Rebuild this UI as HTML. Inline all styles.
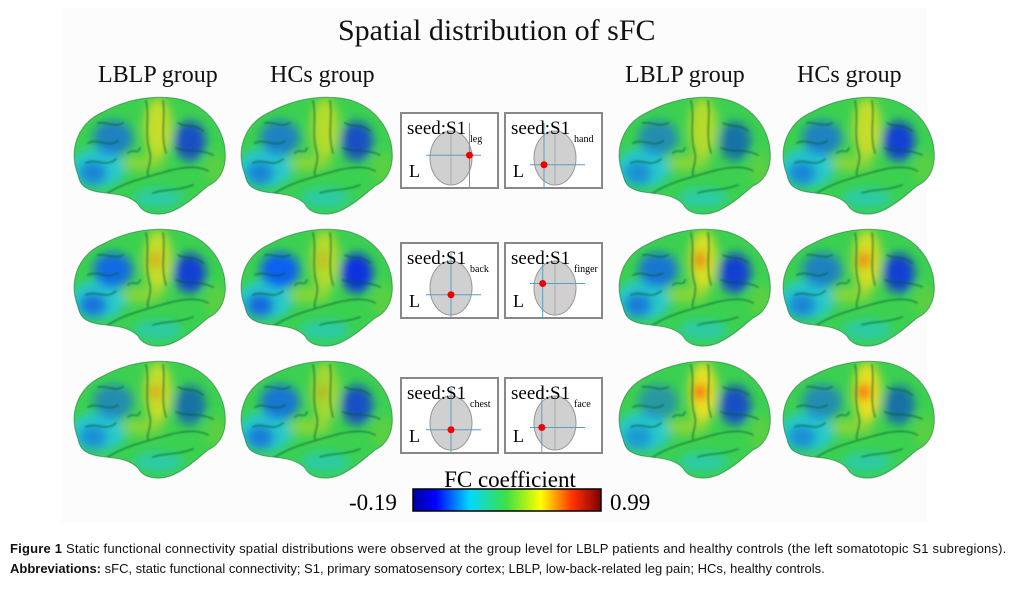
<!DOCTYPE html>
<html><head><meta charset="utf-8">
<style>
body{margin:0;width:1025px;height:593px;background:#fff;overflow:hidden;position:relative;font-family:"Liberation Serif",serif}
.t{position:absolute;white-space:nowrap;color:#111}
.cap{position:absolute;left:10px;font-family:"Liberation Sans",sans-serif;font-size:13px;color:#111;white-space:nowrap}
</style></head><body>
<div style="position:absolute;left:62px;top:8px;width:865px;height:515px;background:#fcfcfc"></div>
<div class="t" style="left:338px;top:14px;font-size:30px">Spatial distribution of sFC</div>
<div class="t" style="left:98px;top:62px;font-size:24px">LBLP group</div>
<div class="t" style="left:270px;top:62px;font-size:24px">HCs group</div>
<div class="t" style="left:625px;top:62px;font-size:24px">LBLP group</div>
<div class="t" style="left:797px;top:62px;font-size:24px">HCs group</div>

<svg id="fig" width="1025" height="593" style="position:absolute;left:0;top:0">
<defs>
<path id="brainShape" d="M10,82 C0,56 10,30 35,19 C55,8 80,2 105,5 C130,8 150,25 156,50 C160,70 155,86 140,93 C130,101 120,111 105,118 C90,124 75,121 70,111 C60,101 45,101 30,99 C15,96 12,91 10,82 Z"/>
<clipPath id="bclip"><use href="#brainShape"/></clipPath>
<filter id="blur" x="-20%" y="-20%" width="140%" height="140%"><feGaussianBlur stdDeviation="5"/></filter>
<filter id="sblur"><feGaussianBlur stdDeviation="0.8"/></filter>
<linearGradient id="cbar" x1="0" x2="1">
<stop offset="0" stop-color="#0000a0"/><stop offset="0.12" stop-color="#0000ff"/><stop offset="0.3" stop-color="#00d8ff"/><stop offset="0.5" stop-color="#40e040"/><stop offset="0.68" stop-color="#ffff00"/><stop offset="0.85" stop-color="#ff3000"/><stop offset="1" stop-color="#800000"/></linearGradient>
<g id="sulci" fill="none" stroke="#0a5a30" stroke-width="2" opacity="0.45" stroke-linecap="round">
<path d="M40,100 C55,90 75,85 100,78 C115,74 130,72 140,78"/>
<path d="M78,8 C82,25 76,40 82,60 C84,70 78,78 80,82"/>
<path d="M95,8 C98,25 92,40 98,60"/>
<path d="M20,50 C30,45 40,55 50,48 M18,70 C28,65 38,75 48,66 M30,30 C38,28 45,35 55,30"/>
<path d="M110,30 C118,35 125,30 135,38 M108,55 C120,60 130,55 145,62"/>
<path d="M85,100 C95,96 110,98 125,92 M60,60 C65,55 70,62 72,55"/>
</g>
</defs>
<g id="brains"></g>
<g id="seeds"></g>
<text x="510" y="487" font-size="23" text-anchor="middle">FC coefficient</text>
<rect x="413" y="489" width="188" height="22" fill="url(#cbar)" stroke="#000" stroke-width="1.5"/>
<text x="349" y="510" font-size="23">-0.19</text>
<text x="610" y="510" font-size="23">0.99</text>
</svg>

<div class="cap" style="top:541px;letter-spacing:0.2px"><b>Figure 1</b> Static functional connectivity spatial distributions were observed at the group level for LBLP patients and healthy controls (the left somatotopic S1 subregions).</div>
<div class="cap" style="top:561px"><b>Abbreviations:</b> sFC, static functional connectivity; S1, primary somatosensory cortex; LBLP, low-back-related leg pain; HCs, healthy controls.</div>

<script>
const NS="http://www.w3.org/2000/svg";
const brainX=[68,235,613,777];
const brainY=[93,225,357];
const seedNames=["leg","hand","back","finger","chest","face"];
const seedDotX=[0.92,0.25,0.5,0.22,0.5,0.2];
const seedDotY=[0.45,0.62,0.62,0.42,0.62,0.58];
const blueF=[0.7,0.7,0.6,0.7, 0.9,1,0.8,0.7, 0.6,0.8,0.5,0.6];
const blueP=[0.8,0.8,0.6,0.9, 0.9,1,0.9,0.9, 0.6,0.8,0.8,0.6];
const yellowM=[0.8,0.7,0.7,0.8, 0.8,0.7,0.9,0.9, 0.8,0.6,1,1];
const redM=[0,0,0,0, 0.3,0.2,0.6,0.6, 0.3,0.2,0.9,0.9];
function el(t,a,p){const e=document.createElementNS(NS,t);for(const k in a)e.setAttribute(k,a[k]);p.appendChild(e);return e;}
const G=document.getElementById('brains');
let i=0;
for(let r=0;r<3;r++)for(let c=0;c<4;c++){
  const g=el('g',{transform:`translate(${brainX[c]},${brainY[r]})`},G);
  
  
  el('use',{href:'#brainShape',fill:'#3cd050'},g);
  const b=el('g',{'clip-path':'url(#bclip)'},g);
  const f=el('g',{filter:'url(#blur)'},b);
  el('ellipse',{cx:30,cy:75,rx:28,ry:20,fill:'#20c8e8',opacity:0.8},f);
  el('ellipse',{cx:45,cy:45,rx:20,ry:18,fill:'#1060f0',opacity:blueF[i]},f);
  el('ellipse',{cx:25,cy:80,rx:14,ry:12,fill:'#1050e0',opacity:blueF[i]*0.8},f);
  el('ellipse',{cx:122,cy:48,rx:16,ry:20,fill:'#0a30e0',opacity:blueP[i]},f);
  el('ellipse',{cx:90,cy:105,rx:25,ry:10,fill:'#20c8e0',opacity:0.6},f);
  el('ellipse',{cx:90,cy:35,rx:14,ry:30,fill:'#e8e020',opacity:yellowM[i]},f);
  el('ellipse',{cx:75,cy:70,rx:22,ry:8,fill:'#a8d830',opacity:0.7},f);
  el('ellipse',{cx:87,cy:35,rx:6,ry:8,fill:'#ff2000',opacity:redM[i]},f);
  el('ellipse',{cx:148,cy:75,rx:12,ry:16,fill:'#60d040',opacity:0.8},f);
  el('use',{href:'#sulci',filter:'url(#sblur)'},b);
  el('use',{href:'#brainShape',fill:'none',stroke:'#1a6030','stroke-width':1,opacity:0.5},g);
  i++;
}
const S=document.getElementById('seeds');
const seedX=[401,505], seedY=[113,243,378];
let k=0;
for(let r=0;r<3;r++)for(let c=0;c<2;c++){
  const x=seedX[c],y=seedY[r];
  const g=el('g',{},S);
  
  
  el('rect',{x:x,y:y,width:97,height:75,fill:'#fff',stroke:'#888','stroke-width':2},g);
  el('ellipse',{cx:x+50,cy:y+45,rx:21,ry:27,fill:'#d0d0d0',stroke:'#999'},g);
  el('line',{x1:x+50,y1:y+18,x2:x+50,y2:y+72,stroke:'#aaa'},g);
  const dx=x+28+seedDotX[k]*44, dy=y+17+seedDotY[k]*56;
  el('line',{x1:x+25,y1:dy,x2:x+80,y2:dy,stroke:'#5a9ec0','stroke-width':1},g);
  el('line',{x1:dx,y1:y+10,x2:dx,y2:y+75,stroke:'#5a9ec0','stroke-width':1},g);
  el('circle',{cx:dx,cy:dy,r:3.5,fill:'#f00000'},g);
  const t=el('text',{x:x+6,y:y+21,'font-size':19},g);
  t.textContent='seed:S1';
  const s=el('text',{x:x+69,y:y+29,'font-size':10},g);
  s.textContent=seedNames[k];
  const L=el('text',{x:x+8,y:y+64,'font-size':18},g);
  L.textContent='L';
  k++;
}
</script>
</body></html>
